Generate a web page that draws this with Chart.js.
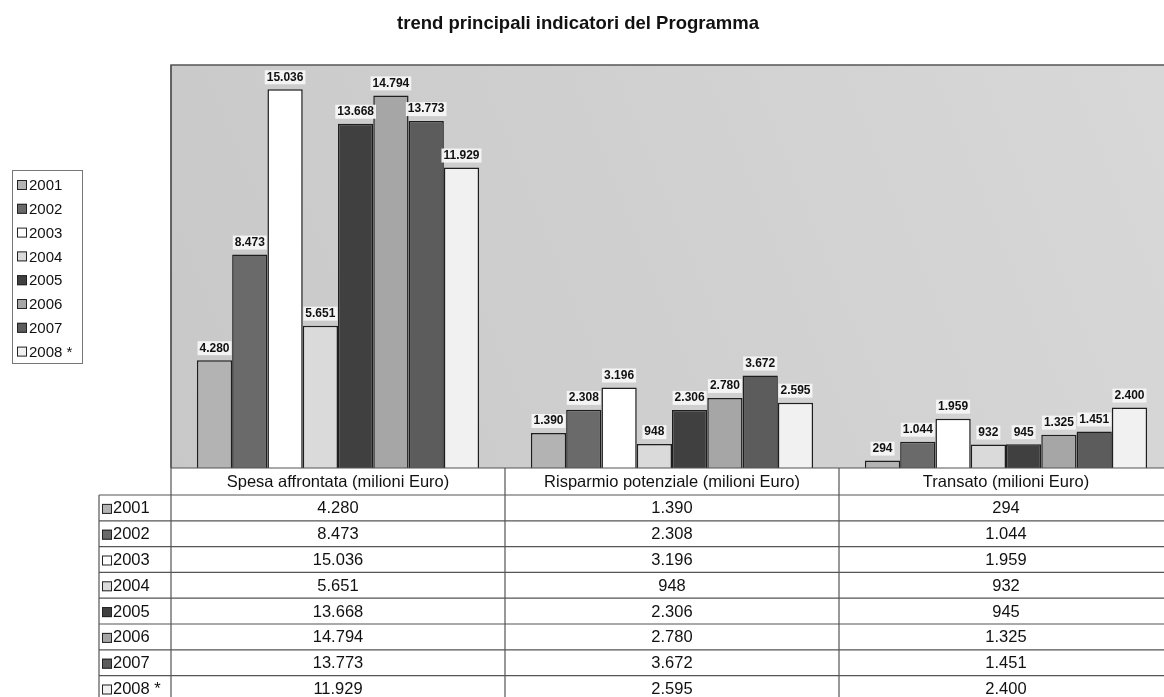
<!DOCTYPE html>
<html>
<head>
<meta charset="utf-8">
<script src="https://cdn.jsdelivr.net/npm/chart.js@4.4.1/dist/chart.umd.min.js"></script>
<style>
  html, body { margin: 0; padding: 0; background: #fff; overflow: hidden; }
  #wrap { width: 1174px; height: 697px; }
</style>
</head>
<body>
<div id="wrap"><canvas id="trendChart" width="1174" height="697"></canvas></div>
<script>
const chartTitle = "trend principali indicatori del Programma";
const categories = ["Spesa affrontata (milioni Euro)", "Risparmio potenziale (milioni Euro)", "Transato (milioni Euro)"];
const years = ["2001", "2002", "2003", "2004", "2005", "2006", "2007", "2008 *"];

const v2001 = [4280, 1390, 294];
const v2002 = [8473, 2308, 1044];
const v2003 = [15036, 3196, 1959];
const v2004 = [5651, 948, 932];
const v2005 = [13668, 2306, 945];
const v2006 = [14794, 2780, 1325];
const v2007 = [13773, 3672, 1451];
const v2008 = [11929, 2595, 2400];

const seriesValues = [v2001, v2002, v2003, v2004, v2005, v2006, v2007, v2008];
const fills = ["#b3b3b3", "#6a6a6a", "#ffffff", "#dadada", "#404040", "#a6a6a6", "#5c5c5c", "#f1f1f1"];

// 4280 -> "4.280"
function fmt(v) {
    return String(v).replace(/\B(?=(\d{3})+(?!\d))/g, ".");
}

const FONT = "'Liberation Sans', Arial, sans-serif";

const extras = {
    id: "extras",
    beforeDraw(chart) {
        const ctx = chart.ctx, a = chart.chartArea;
        const g = ctx.createLinearGradient(a.left, a.bottom, a.right, a.top);
        g.addColorStop(0, "#c8c8c8");
        g.addColorStop(1, "#d8d8d8");
        ctx.save();
        ctx.fillStyle = g;
        ctx.fillRect(a.left, a.top, a.right - a.left, a.bottom - a.top);
        ctx.strokeStyle = "#555";
        ctx.lineWidth = 1.5;
        ctx.beginPath();
        ctx.moveTo(a.left, a.bottom);
        ctx.lineTo(a.left, a.top);
        ctx.lineTo(a.right + 10, a.top);
        ctx.stroke();
        ctx.restore();
    },
    afterDatasetsDraw(chart) {
        const ctx = chart.ctx;
        ctx.save();
        ctx.font = "bold 12px " + FONT;
        ctx.textAlign = "center";
        ctx.textBaseline = "middle";
        chart.data.datasets.forEach((ds, i) => {
            chart.getDatasetMeta(i).data.forEach((bar, j) => {
                const txt = fmt(ds.data[j]);
                const w = ctx.measureText(txt).width + 4;
                const cy = bar.y - 12;
                ctx.fillStyle = "rgba(246,246,246,0.95)";
                ctx.fillRect(bar.x - w / 2, cy - 7, w, 14);
                ctx.fillStyle = "#111";
                ctx.fillText(txt, bar.x, cy);
            });
        });
        ctx.restore();
    },
    afterDraw(chart) {
        const ctx = chart.ctx, a = chart.chartArea;
        const xs = chart.scales.x;
        ctx.save();

        // title
        ctx.fillStyle = "#111";
        ctx.font = "bold 18.5px " + FONT;
        ctx.textAlign = "center";
        ctx.textBaseline = "middle";
        ctx.fillText(chartTitle, 578, 24);

        // legend
        ctx.strokeStyle = "#777";
        ctx.lineWidth = 1;
        ctx.strokeRect(12.5, 170.5, 70, 193);
        ctx.font = "15px " + FONT;
        ctx.textAlign = "left";
        years.forEach((y, i) => {
            const cy = 185 + i * 23.8;
            ctx.fillStyle = fills[i];
            ctx.fillRect(17, cy - 5, 10, 10);
            ctx.strokeStyle = "#222";
            ctx.strokeRect(17.5, cy - 4.5, 9, 9);
            ctx.fillStyle = "#111";
            ctx.fillText(y, 29, cy + 1);
        });

        // data table
        const catW = (xs.getPixelForValue(1) - xs.getPixelForValue(0));
        const headTop = a.bottom, rowTop = a.bottom + 27, rowH = 25.8;
        const right = 1174;
        ctx.strokeStyle = "#555";
        ctx.lineWidth = 1.2;
        ctx.beginPath();
        ctx.moveTo(a.left, headTop); ctx.lineTo(right, headTop);
        for (let r = 0; r <= years.length; r++) {
            const y = rowTop + r * rowH;
            ctx.moveTo(99, y); ctx.lineTo(right, y);
        }
        ctx.moveTo(a.left, a.top); ctx.lineTo(a.left, 697);
        ctx.moveTo(99, rowTop); ctx.lineTo(99, 697);
        for (let c = 1; c < categories.length; c++) {
            const x = xs.getPixelForValue(c) - catW / 2;
            ctx.moveTo(x, headTop); ctx.lineTo(x, 697);
        }
        ctx.stroke();

        ctx.font = "16.5px " + FONT;
        ctx.textAlign = "center";
        ctx.fillStyle = "#111";
        categories.forEach((c, j) => {
            ctx.fillText(c, xs.getPixelForValue(j), headTop + 14);
        });
        years.forEach((y, i) => {
            const cy = rowTop + i * rowH + rowH / 2 + 1;
            ctx.fillStyle = fills[i];
            ctx.fillRect(102, cy - 5, 10, 10);
            ctx.strokeStyle = "#222";
            ctx.lineWidth = 1;
            ctx.strokeRect(102.5, cy - 4.5, 9, 9);
            ctx.fillStyle = "#111";
            ctx.textAlign = "left";
            ctx.fillText(y, 113, cy);
            ctx.textAlign = "center";
            seriesValues[i].forEach((v, j) => {
                ctx.fillText(fmt(v), xs.getPixelForValue(j), cy);
            });
        });
        ctx.restore();
    }
};

const datasets = years.map((y, i) => ({
    label: y,
    data: seriesValues[i],
    backgroundColor: fills[i],
    borderColor: "#1e1e1e",
    borderWidth: 1.5,
    categoryPercentage: 0.845,
    barPercentage: 1.0
}));

new Chart(document.getElementById("trendChart").getContext("2d"), {
    type: "bar",
    data: { labels: categories, datasets: datasets },
    options: {
        responsive: false,
        animation: false,
        layout: { padding: { top: 65, left: 171, right: 1, bottom: 229 } },
        plugins: {
            legend: { display: false },
            title: { display: false },
            tooltip: { enabled: false }
        },
        scales: {
            x: { display: false },
            y: { display: false, min: 0, max: 16000 }
        }
    },
    plugins: [extras]
});
</script>
</body>
</html>
